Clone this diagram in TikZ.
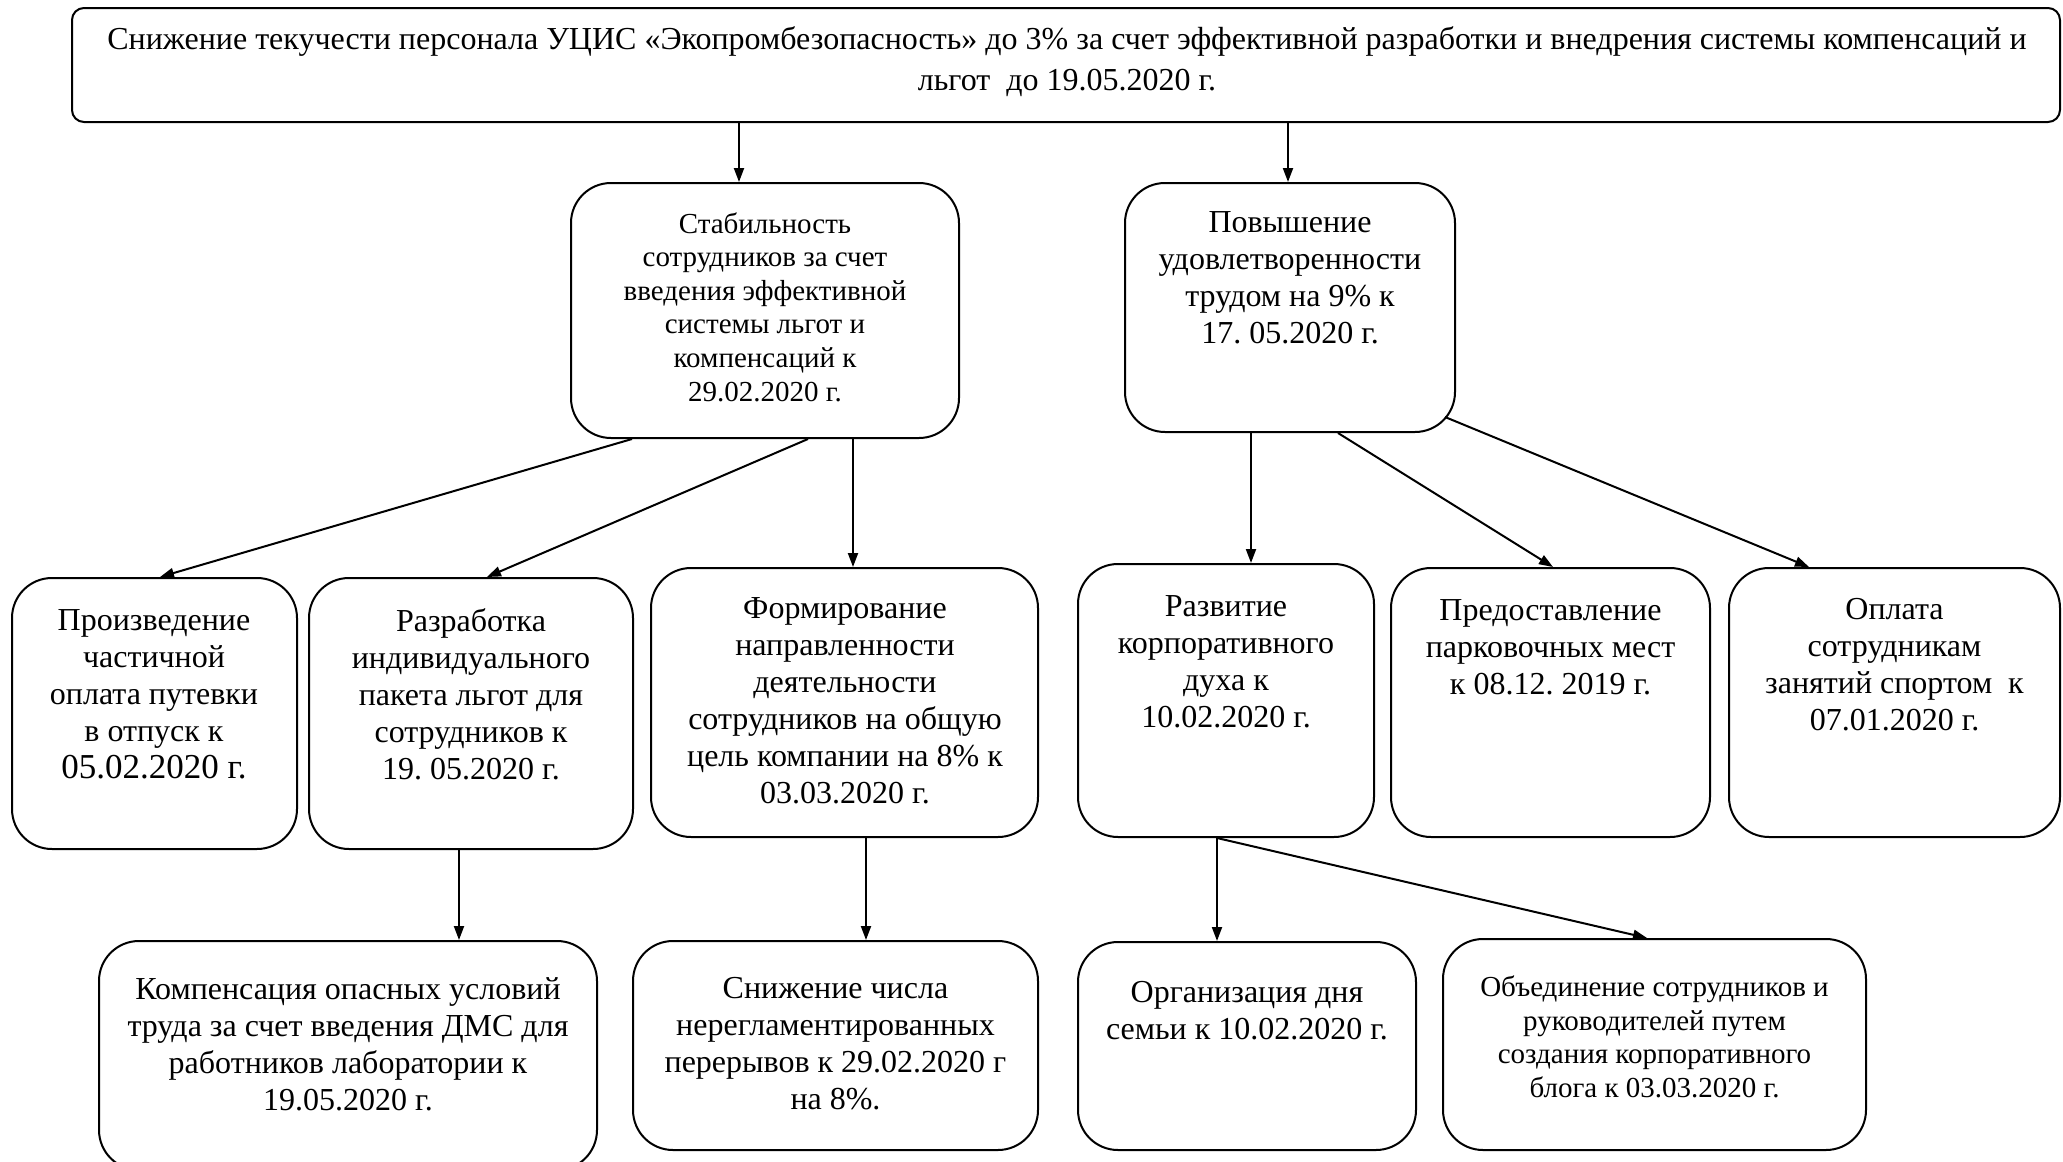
\documentclass[tikz,border=0pt]{standalone}
\usepackage{fontspec}
\setmainfont{Liberation Serif}
\usetikzlibrary{arrows.meta}
\frenchspacing
\tikzset{
  box/.style={draw, line width=1pt, rounded corners=20pt, inner sep=0pt},
  topbox/.style={draw, line width=1pt, rounded corners=6pt, inner sep=0pt},
  txt/.style={align=center, inner sep=0pt},
  fA/.style={font=\fontsize{16}{18.5}\selectfont},
  fB/.style={font=\fontsize{14.5}{16.8}\selectfont},
  fTop/.style={font=\fontsize{16}{20.5}\selectfont},
  arr/.style={-{Triangle[length=7pt,width=5pt]}, line width=1pt},
}
\begin{document}
\begin{tikzpicture}[x=0.5pt,y=-0.5pt]
\useasboundingbox (0,0) rectangle (2063,1162);
% boxes
\node[topbox, minimum width=994pt, minimum height=57pt] (top) at (1066,65) {};
\node[box, minimum width=194pt, minimum height=127.5pt] (stab) at (765,310.5) {};
\node[box, minimum width=165pt, minimum height=124.5pt] (pov) at (1290,307.5) {};
\node[box, minimum width=142.5pt, minimum height=135.5pt] (proizv) at (154.5,713.5) {};
\node[box, minimum width=162pt, minimum height=135.5pt] (razrab) at (471,713.5) {};
\node[box, minimum width=193.5pt, minimum height=134.5pt] (form) at (844.5,702.5) {};
\node[box, minimum width=148pt, minimum height=136.5pt] (razv) at (1226,700.5) {};
\node[box, minimum width=159.5pt, minimum height=134.5pt] (pred) at (1550.5,702.5) {};
\node[box, minimum width=165.5pt, minimum height=134.5pt] (oplata) at (1894.5,702.5) {};
\node[box, minimum width=249pt, minimum height=114.5pt] (komp) at (348,1055.5) {};
\node[box, minimum width=202.5pt, minimum height=104.5pt] (snizh) at (835.5,1045.5) {};
\node[box, minimum width=169pt, minimum height=104pt] (org) at (1247,1046) {};
\node[box, minimum width=211.5pt, minimum height=105.5pt] (obed) at (1654.5,1044.5) {};
% texts
\node[txt, fTop] (top-t) at (1067,62) {Снижение текучести персонала УЦИС «Экопромбезопасность» до 3\% за счет эффективной разработки и внедрения системы компенсаций и\\льгот\ \ до 19.05.2020 г.};
\node[txt, fB] (stab-t) at (765,307) {Стабильность\\сотрудников за счет\\введения эффективной\\системы льгот и\\компенсаций к\\29.02.2020 г.};
\node[txt, fA] (pov-t) at (1290,278) {Повышение\\удовлетворенности\\трудом на 9\% к\\17. 05.2020 г.};
\node[txt, fA] (proizv-t) at (154,694) {Произведение\\частичной\\оплата путевки\\в отпуск к\\{\fontsize{17.5}{20}\selectfont 05.02.2020 г.}};
\node[txt, fA] (razrab-t) at (471,694) {Разработка\\индивидуального\\пакета льгот для\\сотрудников к\\19. 05.2020 г.};
\node[txt, fA] (form-t) at (845,701) {Формирование\\направленности\\деятельности\\сотрудников на общую\\цель компании на 8\% к\\03.03.2020 г.};
\node[txt, fA] (razv-t) at (1226,662) {Развитие\\корпоративного\\духа к\\10.02.2020 г.};
\node[txt, fA] (pred-t) at (1550.5,647) {Предоставление\\парковочных мест\\к 08.12. 2019 г.};
\node[txt, fA] (oplata-t) at (1894.5,665) {Оплата\\сотрудникам\\занятий спортом\ \ к\\07.01.2020 г.};
\node[txt, fA] (komp-t) at (348,1044) {Компенсация опасных условий\\труда за счет введения ДМС для\\работников лаборатории к\\19.05.2020 г.};
\node[txt, fA] (snizh-t) at (835.5,1044) {Снижение числа\\нерегламентированных\\перерывов к 29.02.2020 г\\на 8\%.};
\node[txt, fA] (org-t) at (1247,1011) {Организация дня\\семьи к 10.02.2020 г.};
\node[txt, fB] (obed-t) at (1654.5,1037) {Объединение сотрудников и\\руководителей путем\\создания корпоративного\\блога к 03.03.2020 г.};
% connectors
\coordinate (povc) at (1445,417);
\draw[arr] (739,0 |- top.south) -- (739,0 |- stab.north);
\draw[arr] (1288,0 |- top.south) -- (1288,0 |- pov.north);
\draw[arr] (632,0 |- stab.south) -- (160,0 |- proizv.north);
\draw[arr] (808,0 |- stab.south) -- (487,0 |- razrab.north);
\draw[arr] (853,0 |- stab.south) -- (853,0 |- form.north);
\draw[arr] (1251,0 |- pov.south) -- (1251,0 |- razv.north);
\draw[arr] (1338,0 |- pov.south) -- (1553,0 |- pred.north);
\draw[arr] (povc) -- (1809,0 |- oplata.north);
\draw[arr] (459,0 |- razrab.south) -- (459,0 |- komp.north);
\draw[arr] (866,0 |- form.south) -- (866,0 |- snizh.north);
\draw[arr] (1217,0 |- razv.south) -- (1217,0 |- org.north);
\draw[arr] (1217,0 |- razv.south) -- (1647,0 |- obed.north);
\end{tikzpicture}
\end{document}
